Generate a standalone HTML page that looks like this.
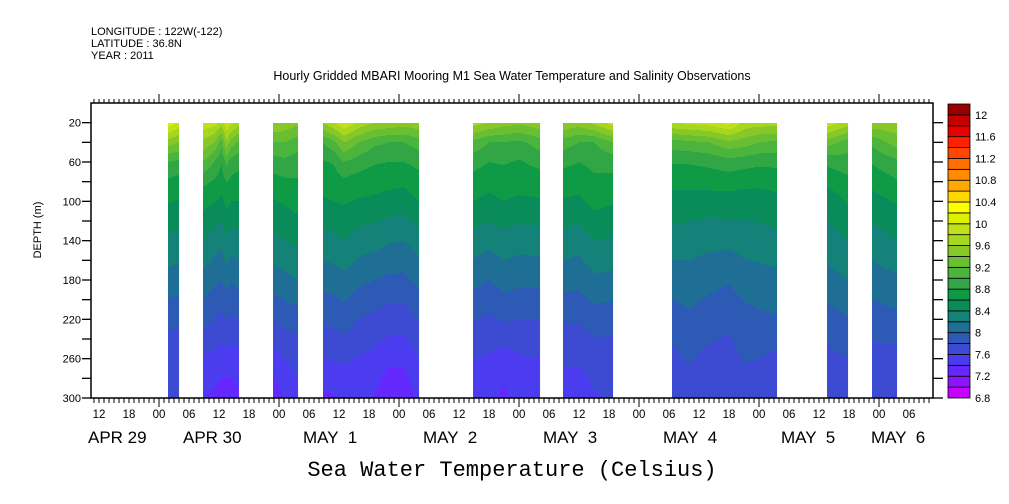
<!DOCTYPE html>
<html><head><meta charset="utf-8">
<style>
body{margin:0;background:#fff;}
svg{display:block;font-family:"Liberation Sans",sans-serif;}
</style></head>
<body>
<svg id="chart" width="1009" height="504" viewBox="0 0 1009 504" xmlns="http://www.w3.org/2000/svg">
<rect width="1009" height="504" fill="#fff"/>
<g font-size="11" fill="#000">
<text x="91" y="35">LONGITUDE : 122W(-122)</text>
<text x="91" y="47">LATITUDE : 36.8N</text>
<text x="91" y="59">YEAR : 2011</text>
</g>
<text x="512" y="80" text-anchor="middle" font-size="12.5">Hourly Gridded MBARI Mooring M1 Sea Water Temperature and Salinity Observations</text>
<g id="field"></g>
<g id="axes"></g>
<g id="cbar"></g>
<text x="41" y="230" transform="rotate(-90 41 230)" text-anchor="middle" font-size="11">DEPTH (m)</text>
<text x="512" y="476" text-anchor="middle" font-family="Liberation Mono, monospace" font-size="22">Sea Water Temperature (Celsius)</text>
</svg>
<script>
// depths of profiles (m)
const depths = [20,40,60,80,100,140,180,220,260,300];
// segments: hours relative to APR 30 00:00
const segStart = [1.8, 8.8, 22.8, 32.8, 62.8, 80.8, 102.6, 133.6, 142.6];
const segEnd   = [4.0, 16.0, 27.8, 52.0, 76.2, 90.8, 123.6, 137.8, 147.6];
// profile times within segments
const profTimes = [
 [1.8, 4.0],
 [8.8, 11, 12.5, 13.5, 14.5, 16],
 [22.8, 25, 27.8],
 [32.8, 35, 37, 40, 43, 46, 49, 52],
 [62.8, 66, 69, 72, 76.2],
 [80.8, 84, 87, 90.8],
 [102.6, 106, 110, 114, 117, 120, 123.6],
 [133.6, 137.8],
 [142.6, 147.6]
];
// temperatures (C) per profile, per depth
const temps = [
 [[10.15,9.5,9.0,8.76,8.62,8.36,8.12,7.86,7.66,7.62],[9.95,9.4,8.95,8.72,8.58,8.33,8.1,7.84,7.64,7.6]],
 [[9.95,9.55,9.2,8.85,8.66,8.4,8.12,7.86,7.58,7.4],[9.9,9.4,9.0,8.78,8.62,8.3,8.05,7.8,7.55,7.35],
  [9.7,9.1,8.82,8.7,8.55,8.25,8.0,7.74,7.5,7.3],[9.95,9.55,9.05,8.8,8.66,8.38,8.08,7.82,7.52,7.28],
  [9.85,9.3,8.9,8.75,8.6,8.3,8.02,7.76,7.5,7.3],[9.7,9.15,8.86,8.72,8.6,8.32,8.06,7.8,7.55,7.35]],
 [[9.6,9.2,8.9,8.72,8.58,8.36,8.1,7.8,7.5,7.25],[9.55,9.2,8.95,8.76,8.62,8.4,8.14,7.86,7.6,7.42],
  [9.45,9.1,8.9,8.78,8.68,8.44,8.2,7.9,7.66,7.55]],
 [[9.6,9.0,8.78,8.68,8.57,8.32,8.07,7.83,7.6,7.35],[9.8,9.15,8.82,8.7,8.6,8.35,8.1,7.85,7.62,7.38],
  [10.0,9.4,9.0,8.75,8.62,8.4,8.14,7.9,7.64,7.42],[9.75,9.2,8.9,8.7,8.58,8.3,8.05,7.8,7.58,7.4],
  [9.6,9.05,8.82,8.68,8.56,8.28,8.0,7.75,7.55,7.4],[9.55,9.0,8.8,8.66,8.52,8.22,7.96,7.7,7.45,7.2],
  [9.5,9.0,8.8,8.64,8.5,8.2,7.95,7.7,7.45,7.25],[9.55,9.1,8.86,8.72,8.6,8.3,8.05,7.8,7.6,7.45]],
 [[9.7,9.15,8.88,8.72,8.6,8.32,8.06,7.82,7.6,7.5],[9.6,9.0,8.8,8.66,8.55,8.26,8.0,7.76,7.58,7.48],
  [9.5,9.0,8.82,8.7,8.6,8.32,8.08,7.82,7.5,7.35],[9.45,8.95,8.78,8.68,8.56,8.28,8.05,7.8,7.58,7.5],
  [9.55,9.1,8.86,8.7,8.58,8.3,8.05,7.8,7.6,7.55]],
 [[9.6,9.1,8.85,8.7,8.58,8.32,8.08,7.82,7.62,7.55],[9.5,9.0,8.8,8.68,8.56,8.28,8.06,7.82,7.62,7.5],
  [9.65,9.0,8.85,8.76,8.66,8.4,8.16,7.9,7.68,7.58],[9.9,9.2,8.88,8.74,8.62,8.38,8.14,7.88,7.68,7.62]],
 [[9.8,9.1,8.82,8.64,8.55,8.3,8.1,7.9,7.75,7.68],[9.85,9.15,8.82,8.66,8.52,8.28,8.12,7.96,7.82,7.72],
  [9.9,9.2,8.85,8.68,8.5,8.26,8.06,7.9,7.74,7.62],[10.05,9.35,8.92,8.68,8.52,8.25,8.02,7.84,7.72,7.64],
  [9.75,9.3,8.88,8.66,8.5,8.28,8.1,7.92,7.82,7.66],[9.7,9.2,8.85,8.64,8.52,8.3,8.12,7.96,7.8,7.68],
  [9.7,9.15,8.86,8.66,8.55,8.34,8.14,7.98,7.74,7.62]],
 [[9.95,9.3,8.85,8.64,8.48,8.3,8.12,7.92,7.74,7.64],[9.7,9.1,8.92,8.74,8.62,8.4,8.2,7.98,7.8,7.7]],
 [[9.55,9.05,8.82,8.66,8.52,8.3,8.1,7.9,7.72,7.66],[9.55,9.3,8.95,8.78,8.62,8.4,8.16,7.95,7.72,7.58]]
];
// colour bar levels (bottom to top)
const levelMin = 6.8, levelStep = 0.2;
const levelColors = ["#c800ff","#8c14ff","#6428ff","#4b3cf0","#3c4bd2","#2d5ab4","#1e6e96","#148278","#0a8c5a","#0f9a46","#32a544","#4bb43c","#69be32","#87c828","#a5d71e","#c0e11a","#dcf000","#ffff00","#ffd700","#ffaa00","#ff8c00","#ff6e00","#ff4600","#ff2000","#e60000","#c80000","#9b0000"];
const cbarLabels = ["6.8","7.2","7.6","8","8.4","8.8","9.2","9.6","10","10.4","10.8","11.2","11.6","12"];
const yTicks = [20,60,100,140,180,220,260,300];
const xTickLabels = ["12","18","00","06"];
const dateLabels = ["APR 29","APR 30","MAY  1","MAY  2","MAY  3","MAY  4","MAY  5","MAY  6"];

const NS="http://www.w3.org/2000/svg";
const X0=91,X1=933,Y0=103,Y1=398;
const hMin=-13.6,hMax=154.8, dMin=0,dMax=300;
const xs=h=>X0+(h-hMin)/(hMax-hMin)*(X1-X0);
const ys=d=>Y0+(d-dMin)/(dMax-dMin)*(Y1-Y0);
const hOf=x=>hMin+(x-X0)/(X1-X0)*(hMax-hMin);
const dOf=y=>dMin+(y-Y0)/(Y1-Y0)*(dMax-dMin);
function mk(tag,attrs,parent){const e=document.createElementNS(NS,tag);for(const k in attrs)e.setAttribute(k,attrs[k]);parent.appendChild(e);return e;}
function colorFor(v){let i=Math.floor((v-levelMin)/levelStep);i=Math.max(0,Math.min(levelColors.length-1,i));return levelColors[i];}
function interpProfile(p,d){
  if(d<=depths[0])return p[0];
  for(let i=0;i<depths.length-1;i++){if(d<=depths[i+1]){const t=(d-depths[i])/(depths[i+1]-depths[i]);return p[i]+(p[i+1]-p[i])*t;}}
  return p[p.length-1];
}
const field=document.getElementById('field');
for(let s=0;s<segStart.length;s++){
  const g=mk('g',{},field);
  
  
  const xa=Math.round(xs(segStart[s])), xb=Math.round(xs(segEnd[s]));
  const yTop=Math.round(ys(20)), yBot=Math.round(ys(300));
  const tt=profTimes[s], pp=temps[s];
  for(let x=xa;x<xb;x++){
    const h=Math.min(segEnd[s],Math.max(segStart[s],hOf(x+0.5)));
    let k=0;while(k<tt.length-2&&h>tt[k+1])k++;
    const t=tt.length>1?Math.max(0,Math.min(1,(h-tt[k])/(tt[k+1]-tt[k]))):0;
    let runC=null,runY=yTop;
    for(let y=yTop;y<=yBot;y++){
      const d=dOf(y+0.5);
      const v=interpProfile(pp[k],d)*(1-t)+interpProfile(pp[Math.min(k+1,pp.length-1)],d)*t;
      const c=colorFor(v);
      if(c!==runC||y===yBot){
        if(runC!==null){const end=(y===yBot&&c===runC)?yBot:y;
          const r=mk('rect',{x:x,y:runY,width:1.05,height:end-runY,fill:runC},g);
          
          }
        runC=c;runY=y;
      }
    }
  }
}
// axes
const ax=document.getElementById('axes');
mk('rect',{x:X0,y:Y0,width:X1-X0,height:Y1-Y0,fill:'none',stroke:'#000','stroke-width':1.5},ax);
for(let d=20;d<=300;d+=20){
  mk('line',{x1:X0-9,x2:X0,y1:ys(d),y2:ys(d),stroke:'#000','stroke-width':1.3},ax);
  mk('line',{x1:X1,x2:X1+10,y1:ys(d),y2:ys(d),stroke:'#000','stroke-width':1.3},ax);
}
yTicks.forEach(d=>{
  const t=mk('text',{x:X0-10,y:ys(d)+4,'text-anchor':'end','font-size':11},ax);
  
  
  t.textContent=String(d);
});
for(let h=-13;h<=154;h++){
  const day=((h%24)+24)%24===0;
  const x=xs(h);
  mk('line',{x1:x,x2:x,y1:Y0,y2:Y0-(day?9:4),stroke:'#000','stroke-width':1},ax);
  mk('line',{x1:x,x2:x,y1:Y1,y2:Y1+(day?9:5),stroke:'#000','stroke-width':1},ax);
}
let li=0;
for(let h=-12;h<=154;h+=6){
  const t=mk('text',{x:xs(h),y:418,'text-anchor':'middle','font-size':11.5},ax);
  
  
  t.textContent=xTickLabels[li%4];li++;
}
const dateLeft=[-14.2,4.8,28.8,52.8,76.8,100.8,124.4,142.4];
dateLabels.forEach((s,i)=>{
  const t=mk('text',{x:xs(dateLeft[i]),y:443,'font-size':17,'style':'white-space:pre'},ax);
  
  
  t.textContent=s;
});
// colour bar
const cb=document.getElementById('cbar');
const CX=948,CW=22,CB=398,CT=104;
const bh=(CB-CT)/levelColors.length;
levelColors.forEach((c,i)=>{
  const r=mk('rect',{x:CX,y:CB-(i+1)*bh,width:CW,height:bh,fill:c,stroke:'#000','stroke-width':0.8},cb);
  
  
});
cbarLabels.forEach((s,i)=>{
  const t=mk('text',{x:CX+CW+5,y:CB-i*2*bh+4,'font-size':11},cb);
  
  
  t.textContent=s;
});
</script>
</body></html>
